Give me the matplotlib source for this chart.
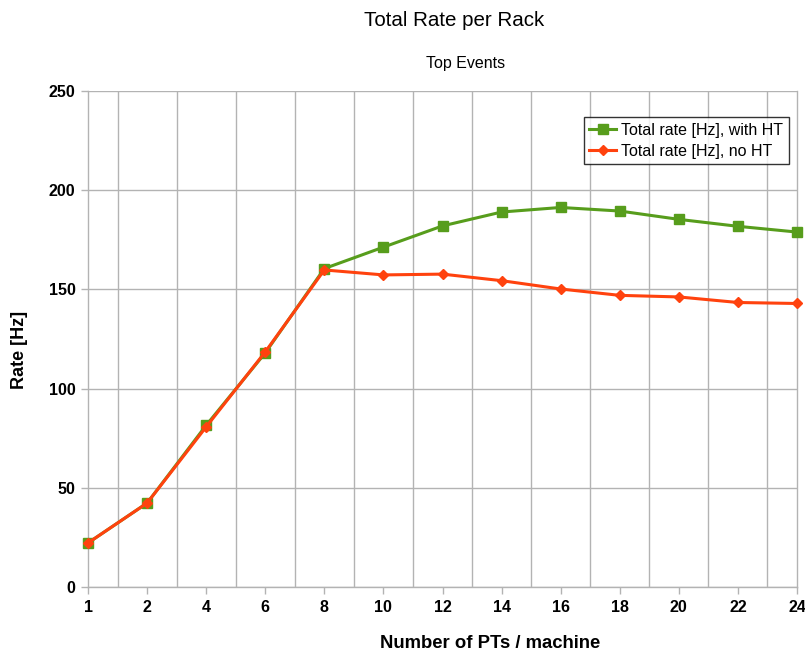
import numpy as np
import matplotlib.pyplot as plt

plt.rcParams['font.family'] = ['Liberation Sans', 'DejaVu Sans']

# Data
pts_per_machine = ['1', '2', '4', '6', '8', '10', '12', '14', '16', '18', '20', '22', '24']
rate_with_ht = [22.2, 42.3, 81.5, 118.0, 160.5, 171.3, 182.0, 189.0, 191.3, 189.5, 185.3, 181.8, 178.9]
rate_no_ht = [22.2, 42.3, 80.7, 118.5, 159.8, 157.3, 157.7, 154.4, 150.2, 147.0, 146.2, 143.4, 142.9]

green = '#579d1c'
orange = '#ff420e'
grid_col = '#b3b3b3'

fig = plt.figure(figsize=(8.05, 6.53), dpi=100)
ax = fig.add_axes([88 / 805, 1 - 587 / 653, (797 - 88) / 805, (587 - 91) / 653])

x = np.arange(len(pts_per_machine))
ax.plot(x, rate_with_ht, color=green, linewidth=2.2, marker='s', markersize=7,
        label='Total rate [Hz], with HT', zorder=3, clip_on=False)
ax.plot(x, rate_no_ht, color=orange, linewidth=2.2, marker='D', markersize=5.5,
        label='Total rate [Hz], no HT', zorder=4, clip_on=False)

ax.set_xlim(0, len(x) - 1)
ax.set_ylim(0, 250)
ax.set_xticks(x)
ax.set_xticklabels(pts_per_machine)
ax.set_xticks(x[:-1] + 0.5, minor=True)
ax.set_yticks(range(0, 251, 50))

# vertical grid sits between categories, horizontal on the major ticks
ax.grid(axis='y', which='major', color=grid_col, linewidth=1)
ax.grid(axis='x', which='minor', color=grid_col, linewidth=1)
ax.tick_params(axis='x', which='minor', length=0)
ax.tick_params(axis='both', which='major', length=5, color=grid_col, width=1,
               labelsize=11.5, pad=4)
for lbl in ax.get_xticklabels() + ax.get_yticklabels():
    lbl.set_fontweight('bold')

ax.spines['top'].set_visible(False)
for side in ['left', 'bottom', 'right']:
    ax.spines[side].set_color(grid_col)
    ax.spines[side].set_linewidth(1)
ax.set_axisbelow(True)

ax.set_ylabel('Rate [Hz]', fontsize=13, fontweight='bold')
ax.yaxis.set_label_coords((19.5 - 88) / 709, (587 - 349.5) / 496)
ax.set_xlabel('Number of PTs / machine', fontsize=13.3, fontweight='bold')
ax.xaxis.set_label_coords((490 - 88) / 709, (587 - 643) / 496)
ax.xaxis.label.set_va('center')
ax.yaxis.label.set_va('center')

fig.text(454 / 805, 1 - 21 / 653, 'Total Rate per Rack', ha='center', va='center', fontsize=14.8)
fig.text(465.5 / 805, 1 - 63.5 / 653, 'Top Events', ha='center', va='center', fontsize=11.5)

leg = ax.legend(loc='upper right', bbox_to_anchor=((789 - 88) / 709, (587 - 117) / 496),
                fontsize=11.5, frameon=True, fancybox=False, borderpad=0.35,
                handlelength=1.65, handletextpad=0.35, labelspacing=0.37, borderaxespad=0)
leg.get_frame().set_edgecolor('black')
leg.get_frame().set_linewidth(1)

fig.savefig('out.png', dpi=100)
